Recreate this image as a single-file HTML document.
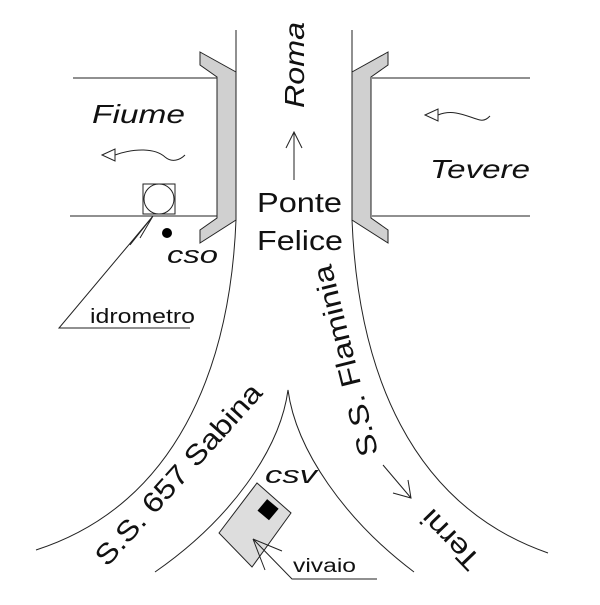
<!DOCTYPE html>
<html><head><style>body{margin:0;background:#fff}</style></head><body>
<svg width="600" height="600" viewBox="0 0 600 600" xmlns="http://www.w3.org/2000/svg" font-family="Liberation Sans, sans-serif">
<g fill="none" stroke="#222" stroke-width="1">
<path d="M236 30 V220 C230 370 175 505 36 550"/>
<path d="M352 30 V220 C358 370 410 505 548 553"/>
<path d="M155 572 C230 520 280 450 288 390 C296 450 345 520 414 572"/>
<path d="M73 78 H217 M70 216 H217"/>
<path d="M372 78 H530 M372 216 H530"/>
<rect x="143" y="184" width="32" height="30"/>
<circle cx="159" cy="199" r="15"/>
<path d="M153 216 L59 328 H190 M153 216 L130 245 M153 216 L140 238"/>
<path d="M294 180 V132 M286 148 L294 132 L302 148"/>
<path d="M383 465 L411 498 M393 493 L411 498 L408 480"/>
<path d="M102 155 L115 149 L115 161 Z M115 155 C135 148 155 148 165 157 C172 163 180 160 185 155"/>
<path d="M425 115 L438 109 L438 121 Z M438 115 C455 108 470 118 480 120 C485 121 488 118 490 116"/>
</g>
<g fill="#d0d0d0" stroke="#222">
<path d="M200 52 L236 72 V220 L200 243 V230 L217 218 V77 L200 65 Z"/>
<path d="M388 52 L352 72 V220 L388 243 V230 L371 218 V77 L388 65 Z"/>
<path d="M219 533 L257 483 L291 513 L252 567 Z" fill="#ddd"/>
</g>
<path d="M253 539 L292 579 H377 M253 539 L265 570 M253 539 L282 551" fill="none" stroke="#222"/>
<rect x="261" y="502" width="15" height="15" fill="#000" transform="rotate(40 268 509)"/>
<circle cx="167" cy="233" r="5" fill="#000"/>
<g fill="#111">
<text x="92" y="123" font-size="26" font-style="italic" textLength="93" lengthAdjust="spacingAndGlyphs">Fiume</text>
<text x="430" y="178" font-size="26" font-style="italic" textLength="100" lengthAdjust="spacingAndGlyphs">Tevere</text>
<text x="0" y="0" font-size="28" font-style="italic" text-anchor="middle" transform="translate(294 65) rotate(-90)" dy="10" textLength="86" lengthAdjust="spacingAndGlyphs">Roma</text>
<text x="257" y="212" font-size="28" textLength="85" lengthAdjust="spacingAndGlyphs">Ponte</text>
<text x="257" y="250" font-size="28" textLength="86" lengthAdjust="spacingAndGlyphs">Felice</text>
<text x="167" y="263" font-size="24" font-style="italic" textLength="51" lengthAdjust="spacingAndGlyphs">cso</text>
<text x="90" y="323" font-size="20" textLength="105" lengthAdjust="spacingAndGlyphs">idrometro</text>
<text x="265" y="483" font-size="24" font-style="italic" textLength="52" lengthAdjust="spacingAndGlyphs">csv</text>
<text x="293" y="572" font-size="19" textLength="63" lengthAdjust="spacingAndGlyphs">vivaio</text>
<text x="0" y="0" font-size="28" text-anchor="middle" transform="translate(345 361) rotate(-104)" dy="10" textLength="196" lengthAdjust="spacingAndGlyphs">S.S. Flaminia</text>
<text x="0" y="0" font-size="28" text-anchor="middle" transform="translate(178 474) rotate(-48)" dy="10" textLength="234" lengthAdjust="spacingAndGlyphs">S.S. 657 Sabina</text>
<text x="0" y="0" font-size="28" text-anchor="middle" transform="translate(450 540) rotate(-134)" dy="10" textLength="72" lengthAdjust="spacingAndGlyphs">Terni</text>
</g>
</svg>
</body></html>
